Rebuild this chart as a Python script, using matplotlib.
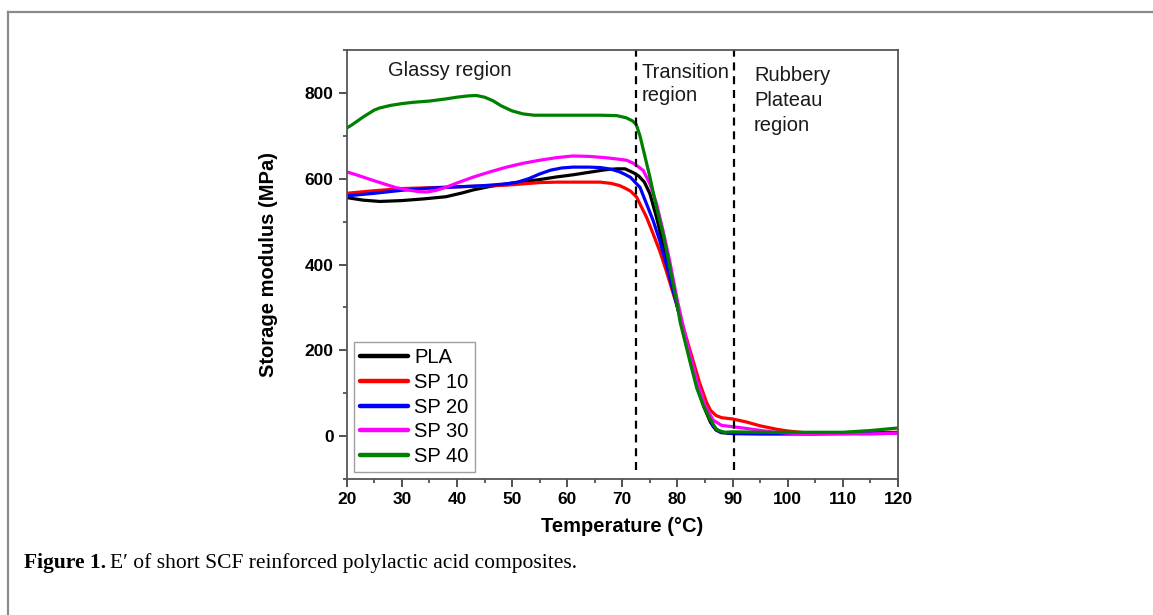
import matplotlib
matplotlib.use("Agg")
import matplotlib.pyplot as plt
from matplotlib.lines import Line2D
from matplotlib.ticker import MultipleLocator

plt.rcParams['font.family'] = ['Liberation Sans', 'DejaVu Sans']

# ---- data ----
pla_x = [20, 23, 26, 30, 34, 38, 41, 43, 46, 49, 52, 55, 58, 61, 64, 67, 69, 70.5, 72, 73, 74, 75,
         76.2, 77.4, 78.6, 80, 81.2, 82.4, 83.6, 84.8, 86, 87, 88, 90, 95, 100, 105, 110, 115, 120]
pla_y = [556, 550, 547, 549, 553, 558, 567, 574, 582, 588, 593, 598, 604, 609, 615, 621, 623, 623, 614, 606, 592, 565,
         510, 447, 385, 300, 240, 175, 115, 68, 32, 14, 8, 6, 6, 6, 6, 7, 7, 8]

sp10_x = [20, 25, 30, 35, 40, 45, 49, 52, 55, 58, 62, 66, 68, 69.5, 70.5, 71.5, 72.6, 73.2, 74.4, 75.6, 76.8,
          78, 80, 82, 84, 85.3, 86, 87, 88, 90, 92.5, 95, 98, 100, 103, 106, 110, 115, 120]
sp10_y = [566, 572, 577, 579, 581, 583, 585, 588, 591, 592, 592, 592, 589, 584, 578, 571, 557, 541, 510, 471, 431,
          384, 300, 212, 125, 78, 60, 48, 43, 40, 33, 24, 16, 12, 8, 7, 7, 8, 9]

sp20_x = [20, 25, 30, 35, 40, 45, 49, 51, 53, 55, 57, 59, 61, 64, 66, 68, 69.5, 70.5, 71.5, 72.6, 73.2, 74.4,
          75.6, 76.8, 78, 79.3, 81.1, 82.9, 84.7, 86.5, 87.7, 90, 95, 100, 105, 110, 115, 120]
sp20_y = [560, 566, 573, 578, 581, 584, 588, 592, 600, 611, 620, 625, 627, 627, 626, 622, 616, 610, 603, 588, 580, 541,
          502, 455, 400, 335, 247, 154, 76, 22, 10, 6, 5, 5, 5, 6, 7, 8]

sp30_x = [20, 22, 24.8, 27, 29, 31, 33, 34.5, 36, 38, 40, 43, 46, 49, 52, 55, 58, 61, 64, 67, 69, 70.8, 72, 73,
          73.8, 75, 76.2, 77.4, 78.6, 79.9, 81.5, 83.5, 85, 86.5, 88, 90, 93, 97, 100, 105, 110, 115, 120]
sp30_y = [616, 608, 596, 587, 579, 574, 570, 569, 572, 580, 590, 604, 616, 627, 636, 643, 649, 653, 652, 649, 646, 643, 636, 627,
          619, 588, 542, 478, 408, 321, 230, 130, 72, 37, 25, 22, 17, 10, 7, 5, 5, 5, 7]

sp40_x = [20, 21, 22, 23, 24, 25, 26, 28, 30, 32, 35, 38, 40, 42, 43.5, 45, 46.5, 48, 50, 52, 54, 58, 62, 66, 69, 70.7, 71.8,
          72.5, 73.2, 73.8, 75, 76.2, 77.4, 78.6, 79.9, 80.5, 82.3, 83.5, 84.7, 85.9, 87.1, 88.5, 90, 95, 100, 105,
          110, 115, 120]
sp40_y = [718, 726, 735, 744, 752, 760, 765, 771, 775, 778, 781, 786, 790, 793, 794, 790, 782, 770, 758, 751, 748, 748, 748, 748, 747, 742, 735,
          727, 700, 668, 604, 533, 471, 395, 310, 265, 172, 112, 71, 40, 15, 9, 10, 9, 9, 9,
          9, 13, 19]

series_labels = ["PLA", "SP 10", "SP 20", "SP 30", "SP 40"]
series_colors = ["#000000", "#ff0000", "#0000ff", "#ff00ff", "#008000"]
series_x = [pla_x, sp10_x, sp20_x, sp30_x, sp40_x]
series_y = [pla_y, sp10_y, sp20_y, sp30_y, sp40_y]

boundaries = [72.4, 90.3]
region_texts = ["Glassy region", "Transition\nregion", "Rubbery\nPlateau\nregion"]

# ---- figure ----
fig = plt.figure(figsize=(11.53, 6.15), dpi=100)
ax = fig.add_axes([0.3007, 0.2211, 0.4781, 0.6976])

for xs, ys, lab, col in zip(series_x, series_y, series_labels, series_colors):
    ax.plot(xs, ys, color=col, lw=2.3, label=lab, solid_capstyle='round', solid_joinstyle='round')

for b in boundaries:
    ax.plot([b, b], [-80, 900], color='black', lw=1.6, linestyle=(0, (3.6, 2.6)))

ax.text(27.5, 852, region_texts[0], fontsize=14.5, va='center', ha='left', color='#1a1a1a')
ax.text(73.5, 870, region_texts[1], fontsize=14.5, va='top', ha='left', color='#1a1a1a', linespacing=1.3)
ax.text(93.9, 862, region_texts[2], fontsize=14.5, va='top', ha='left', color='#1a1a1a', linespacing=1.38)

ax.set_xlim(20, 120)
ax.set_ylim(-100, 900)
ax.xaxis.set_major_locator(MultipleLocator(10))
ax.xaxis.set_minor_locator(MultipleLocator(5))
ax.yaxis.set_major_locator(MultipleLocator(200))
ax.yaxis.set_minor_locator(MultipleLocator(100))
ax.tick_params(which='major', direction='out', length=5.5, width=1.2, colors='#333333',
               labelsize=12.5, labelcolor='black', pad=4)
ax.tick_params(which='minor', direction='out', length=3, width=1.1, colors='#333333')
for lab in ax.get_xticklabels() + ax.get_yticklabels():
    lab.set_fontweight('bold')
for sp in ax.spines.values():
    sp.set_color('#555555')
    sp.set_linewidth(1.3)

ax.set_xlabel("Temperature (\u00b0C)", fontsize=14.5, fontweight='bold', labelpad=7)
ax.set_ylabel("Storage modulus (MPa)", fontsize=14.5, fontweight='bold', labelpad=19)

leg = ax.legend(loc='lower left', fontsize=14.5, frameon=True, fancybox=False,
                handlelength=2.4, handletextpad=0.3, labelspacing=0.28, borderpad=0.3,
                borderaxespad=0.35, edgecolor='#888888')
leg.get_frame().set_linewidth(1.0)
for h in leg.get_lines():
    h.set_linewidth(3.2)

# figure frame (top and left lines)
fig.add_artist(Line2D([8 / 1153, 8 / 1153], [0, 1 - 12 / 615], transform=fig.transFigure,
                      color='#8a8a8a', lw=1.6))
fig.add_artist(Line2D([8 / 1153, 1], [1 - 12 / 615, 1 - 12 / 615], transform=fig.transFigure,
                      color='#8a8a8a', lw=1.6))

# caption
serif = ['Liberation Serif', 'DejaVu Serif']
t1 = fig.text(24 / 1153, 1 - 568 / 615, "Figure 1.", family=serif, fontweight='bold',
              fontsize=15.5, va='baseline', ha='left')
fig.canvas.draw()
bb = t1.get_window_extent()
fig.text((bb.x1 + 4) / 1153, 1 - 568 / 615,
         "E\u2032 of short SCF reinforced polylactic acid composites.",
         family=serif, fontsize=15.5, va='baseline', ha='left')

fig.savefig("out.png", dpi=100)
